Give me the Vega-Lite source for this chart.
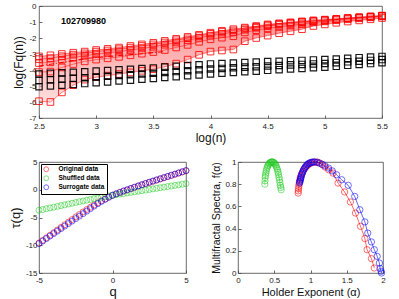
{
"$schema":"https://vega.github.io/schema/vega-lite/v6.json",
"background":"white",
"padding":{"left":9,"top":1,"right":4,"bottom":2},
"spacing":12,
"resolve":{"scale":{"color":"independent","x":"independent","y":"independent"},"legend":{"color":"independent"}},
"config":{
 "view":{"stroke":"#444","strokeWidth":0.8},
 "axis":{"labelFont":"Liberation Sans","titleFont":"Liberation Sans","labelFontSize":8,"titleFontSize":12,"titleFontWeight":"normal","labelColor":"#222","titleColor":"#111","grid":false,"domain":false,"tickColor":"#444","tickSize":-3,"labelPadding":5,"tickWidth":0.8,"titlePadding":3,"labelFlush":false,"labelOverlap":false},
 "axisX":{"labelPadding":6},
 "legend":{"labelFont":"Liberation Sans"}
},
"datasets":{
"lab":[{"x":2.89,"y":-0.94,"t":"102709980"}],
"top":[
{"g":"r","s":0,"x":2.5,"y":-3.15},{"g":"r","s":0,"x":2.6,"y":-3.08},{"g":"r","s":0,"x":2.7,"y":-3.0},{"g":"r","s":0,"x":2.8,"y":-2.92},{"g":"r","s":0,"x":2.9,"y":-2.85},{"g":"r","s":0,"x":3.0,"y":-2.75},{"g":"r","s":0,"x":3.1,"y":-2.68},{"g":"r","s":0,"x":3.2,"y":-2.6},{"g":"r","s":0,"x":3.3,"y":-2.5},{"g":"r","s":0,"x":3.4,"y":-2.4},{"g":"r","s":0,"x":3.5,"y":-2.3},{"g":"r","s":0,"x":3.6,"y":-2.18},{"g":"r","s":0,"x":3.7,"y":-2.05},{"g":"r","s":0,"x":3.8,"y":-1.93},{"g":"r","s":0,"x":3.9,"y":-1.8},{"g":"r","s":0,"x":4.0,"y":-1.67},{"g":"r","s":0,"x":4.1,"y":-1.55},{"g":"r","s":0,"x":4.2,"y":-1.45},{"g":"r","s":0,"x":4.3,"y":-1.35},{"g":"r","s":0,"x":4.4,"y":-1.25},{"g":"r","s":0,"x":4.5,"y":-1.15},{"g":"r","s":0,"x":4.6,"y":-1.08},{"g":"r","s":0,"x":4.7,"y":-1.02},{"g":"r","s":0,"x":4.8,"y":-0.96},{"g":"r","s":0,"x":4.9,"y":-0.9},{"g":"r","s":0,"x":5.0,"y":-0.85},{"g":"r","s":0,"x":5.1,"y":-0.8},{"g":"r","s":0,"x":5.2,"y":-0.75},{"g":"r","s":0,"x":5.3,"y":-0.7},{"g":"r","s":0,"x":5.4,"y":-0.65},{"g":"r","s":0,"x":5.5,"y":-0.6},
{"g":"r","s":1,"x":2.5,"y":-3.32},{"g":"r","s":1,"x":2.6,"y":-3.26},{"g":"r","s":1,"x":2.7,"y":-3.14},{"g":"r","s":1,"x":2.8,"y":-3.04},{"g":"r","s":1,"x":2.9,"y":-2.96},{"g":"r","s":1,"x":3.0,"y":-2.85},{"g":"r","s":1,"x":3.1,"y":-2.78},{"g":"r","s":1,"x":3.2,"y":-2.7},{"g":"r","s":1,"x":3.3,"y":-2.6},{"g":"r","s":1,"x":3.4,"y":-2.5},{"g":"r","s":1,"x":3.5,"y":-2.4},{"g":"r","s":1,"x":3.6,"y":-2.28},{"g":"r","s":1,"x":3.7,"y":-2.14},{"g":"r","s":1,"x":3.8,"y":-2.02},{"g":"r","s":1,"x":3.9,"y":-1.88},{"g":"r","s":1,"x":4.0,"y":-1.74},{"g":"r","s":1,"x":4.1,"y":-1.62},{"g":"r","s":1,"x":4.2,"y":-1.53},{"g":"r","s":1,"x":4.3,"y":-1.4},{"g":"r","s":1,"x":4.4,"y":-1.3},{"g":"r","s":1,"x":4.5,"y":-1.19},{"g":"r","s":1,"x":4.6,"y":-1.12},{"g":"r","s":1,"x":4.7,"y":-1.05},{"g":"r","s":1,"x":4.8,"y":-0.99},{"g":"r","s":1,"x":4.9,"y":-0.92},{"g":"r","s":1,"x":5.0,"y":-0.87},{"g":"r","s":1,"x":5.1,"y":-0.82},{"g":"r","s":1,"x":5.2,"y":-0.76},{"g":"r","s":1,"x":5.3,"y":-0.71},{"g":"r","s":1,"x":5.4,"y":-0.66},{"g":"r","s":1,"x":5.5,"y":-0.61},
{"g":"r","s":2,"x":2.5,"y":-3.57},{"g":"r","s":2,"x":2.6,"y":-3.52},{"g":"r","s":2,"x":2.7,"y":-3.36},{"g":"r","s":2,"x":2.8,"y":-3.22},{"g":"r","s":2,"x":2.9,"y":-3.11},{"g":"r","s":2,"x":3.0,"y":-3.01},{"g":"r","s":2,"x":3.1,"y":-2.93},{"g":"r","s":2,"x":3.2,"y":-2.85},{"g":"r","s":2,"x":3.3,"y":-2.75},{"g":"r","s":2,"x":3.4,"y":-2.65},{"g":"r","s":2,"x":3.5,"y":-2.55},{"g":"r","s":2,"x":3.6,"y":-2.42},{"g":"r","s":2,"x":3.7,"y":-2.28},{"g":"r","s":2,"x":3.8,"y":-2.14},{"g":"r","s":2,"x":3.9,"y":-1.99},{"g":"r","s":2,"x":4.0,"y":-1.85},{"g":"r","s":2,"x":4.1,"y":-1.74},{"g":"r","s":2,"x":4.2,"y":-1.64},{"g":"r","s":2,"x":4.3,"y":-1.48},{"g":"r","s":2,"x":4.4,"y":-1.36},{"g":"r","s":2,"x":4.5,"y":-1.26},{"g":"r","s":2,"x":4.6,"y":-1.17},{"g":"r","s":2,"x":4.7,"y":-1.1},{"g":"r","s":2,"x":4.8,"y":-1.03},{"g":"r","s":2,"x":4.9,"y":-0.95},{"g":"r","s":2,"x":5.0,"y":-0.9},{"g":"r","s":2,"x":5.1,"y":-0.84},{"g":"r","s":2,"x":5.2,"y":-0.78},{"g":"r","s":2,"x":5.3,"y":-0.73},{"g":"r","s":2,"x":5.4,"y":-0.68},{"g":"r","s":2,"x":5.5,"y":-0.62},
{"g":"r","s":3,"x":2.5,"y":-4.13},{"g":"r","s":3,"x":2.6,"y":-4.1},{"g":"r","s":3,"x":2.7,"y":-3.84},{"g":"r","s":3,"x":2.8,"y":-3.63},{"g":"r","s":3,"x":2.9,"y":-3.46},{"g":"r","s":3,"x":3.0,"y":-3.35},{"g":"r","s":3,"x":3.1,"y":-3.27},{"g":"r","s":3,"x":3.2,"y":-3.18},{"g":"r","s":3,"x":3.3,"y":-3.08},{"g":"r","s":3,"x":3.4,"y":-2.98},{"g":"r","s":3,"x":3.5,"y":-2.88},{"g":"r","s":3,"x":3.6,"y":-2.75},{"g":"r","s":3,"x":3.7,"y":-2.59},{"g":"r","s":3,"x":3.8,"y":-2.43},{"g":"r","s":3,"x":3.9,"y":-2.24},{"g":"r","s":3,"x":4.0,"y":-2.08},{"g":"r","s":3,"x":4.1,"y":-1.98},{"g":"r","s":3,"x":4.2,"y":-1.89},{"g":"r","s":3,"x":4.3,"y":-1.65},{"g":"r","s":3,"x":4.4,"y":-1.51},{"g":"r","s":3,"x":4.5,"y":-1.4},{"g":"r","s":3,"x":4.6,"y":-1.3},{"g":"r","s":3,"x":4.7,"y":-1.22},{"g":"r","s":3,"x":4.8,"y":-1.13},{"g":"r","s":3,"x":4.9,"y":-1.02},{"g":"r","s":3,"x":5.0,"y":-0.96},{"g":"r","s":3,"x":5.1,"y":-0.89},{"g":"r","s":3,"x":5.2,"y":-0.83},{"g":"r","s":3,"x":5.3,"y":-0.77},{"g":"r","s":3,"x":5.4,"y":-0.71},{"g":"r","s":3,"x":5.5,"y":-0.65},
{"g":"r","s":4,"x":2.5,"y":-5.95},{"g":"r","s":4,"x":2.6,"y":-6.0},{"g":"r","s":4,"x":2.7,"y":-5.4},{"g":"r","s":4,"x":2.8,"y":-4.95},{"g":"r","s":4,"x":2.9,"y":-4.6},{"g":"r","s":4,"x":3.0,"y":-4.45},{"g":"r","s":4,"x":3.1,"y":-4.35},{"g":"r","s":4,"x":3.2,"y":-4.25},{"g":"r","s":4,"x":3.3,"y":-4.15},{"g":"r","s":4,"x":3.4,"y":-4.05},{"g":"r","s":4,"x":3.5,"y":-3.95},{"g":"r","s":4,"x":3.6,"y":-3.8},{"g":"r","s":4,"x":3.7,"y":-3.6},{"g":"r","s":4,"x":3.8,"y":-3.35},{"g":"r","s":4,"x":3.9,"y":-3.05},{"g":"r","s":4,"x":4.0,"y":-2.85},{"g":"r","s":4,"x":4.1,"y":-2.78},{"g":"r","s":4,"x":4.2,"y":-2.72},{"g":"r","s":4,"x":4.3,"y":-2.2},{"g":"r","s":4,"x":4.4,"y":-2.0},{"g":"r","s":4,"x":4.5,"y":-1.85},{"g":"r","s":4,"x":4.6,"y":-1.7},{"g":"r","s":4,"x":4.7,"y":-1.58},{"g":"r","s":4,"x":4.8,"y":-1.45},{"g":"r","s":4,"x":4.9,"y":-1.25},{"g":"r","s":4,"x":5.0,"y":-1.15},{"g":"r","s":4,"x":5.1,"y":-1.05},{"g":"r","s":4,"x":5.2,"y":-0.97},{"g":"r","s":4,"x":5.3,"y":-0.9},{"g":"r","s":4,"x":5.4,"y":-0.83},{"g":"r","s":4,"x":5.5,"y":-0.75},
{"g":"b","s":0,"x":2.5,"y":-4.25},{"g":"b","s":0,"x":2.6,"y":-4.21},{"g":"b","s":0,"x":2.7,"y":-4.18},{"g":"b","s":0,"x":2.8,"y":-4.14},{"g":"b","s":0,"x":2.9,"y":-4.11},{"g":"b","s":0,"x":3.0,"y":-4.07},{"g":"b","s":0,"x":3.1,"y":-4.03},{"g":"b","s":0,"x":3.2,"y":-3.99},{"g":"b","s":0,"x":3.3,"y":-3.95},{"g":"b","s":0,"x":3.4,"y":-3.91},{"g":"b","s":0,"x":3.5,"y":-3.87},{"g":"b","s":0,"x":3.6,"y":-3.82},{"g":"b","s":0,"x":3.7,"y":-3.77},{"g":"b","s":0,"x":3.8,"y":-3.72},{"g":"b","s":0,"x":3.9,"y":-3.67},{"g":"b","s":0,"x":4.0,"y":-3.62},{"g":"b","s":0,"x":4.1,"y":-3.59},{"g":"b","s":0,"x":4.2,"y":-3.56},{"g":"b","s":0,"x":4.3,"y":-3.53},{"g":"b","s":0,"x":4.4,"y":-3.5},{"g":"b","s":0,"x":4.5,"y":-3.47},{"g":"b","s":0,"x":4.6,"y":-3.45},{"g":"b","s":0,"x":4.7,"y":-3.42},{"g":"b","s":0,"x":4.8,"y":-3.4},{"g":"b","s":0,"x":4.9,"y":-3.37},{"g":"b","s":0,"x":5.0,"y":-3.35},{"g":"b","s":0,"x":5.1,"y":-3.31},{"g":"b","s":0,"x":5.2,"y":-3.27},{"g":"b","s":0,"x":5.3,"y":-3.23},{"g":"b","s":0,"x":5.4,"y":-3.19},{"g":"b","s":0,"x":5.5,"y":-3.15},
{"g":"b","s":1,"x":2.5,"y":-4.65},{"g":"b","s":1,"x":2.6,"y":-4.61},{"g":"b","s":1,"x":2.7,"y":-4.57},{"g":"b","s":1,"x":2.8,"y":-4.52},{"g":"b","s":1,"x":2.9,"y":-4.48},{"g":"b","s":1,"x":3.0,"y":-4.44},{"g":"b","s":1,"x":3.1,"y":-4.39},{"g":"b","s":1,"x":3.2,"y":-4.34},{"g":"b","s":1,"x":3.3,"y":-4.3},{"g":"b","s":1,"x":3.4,"y":-4.25},{"g":"b","s":1,"x":3.5,"y":-4.2},{"g":"b","s":1,"x":3.6,"y":-4.15},{"g":"b","s":1,"x":3.7,"y":-4.1},{"g":"b","s":1,"x":3.8,"y":-4.04},{"g":"b","s":1,"x":3.9,"y":-3.99},{"g":"b","s":1,"x":4.0,"y":-3.94},{"g":"b","s":1,"x":4.1,"y":-3.9},{"g":"b","s":1,"x":4.2,"y":-3.86},{"g":"b","s":1,"x":4.3,"y":-3.82},{"g":"b","s":1,"x":4.4,"y":-3.79},{"g":"b","s":1,"x":4.5,"y":-3.75},{"g":"b","s":1,"x":4.6,"y":-3.72},{"g":"b","s":1,"x":4.7,"y":-3.68},{"g":"b","s":1,"x":4.8,"y":-3.65},{"g":"b","s":1,"x":4.9,"y":-3.62},{"g":"b","s":1,"x":5.0,"y":-3.59},{"g":"b","s":1,"x":5.1,"y":-3.54},{"g":"b","s":1,"x":5.2,"y":-3.49},{"g":"b","s":1,"x":5.3,"y":-3.45},{"g":"b","s":1,"x":5.4,"y":-3.4},{"g":"b","s":1,"x":5.5,"y":-3.35},
{"g":"b","s":2,"x":2.5,"y":-5.05},{"g":"b","s":2,"x":2.6,"y":-5.0},{"g":"b","s":2,"x":2.7,"y":-4.95},{"g":"b","s":2,"x":2.8,"y":-4.9},{"g":"b","s":2,"x":2.9,"y":-4.85},{"g":"b","s":2,"x":3.0,"y":-4.8},{"g":"b","s":2,"x":3.1,"y":-4.75},{"g":"b","s":2,"x":3.2,"y":-4.69},{"g":"b","s":2,"x":3.3,"y":-4.64},{"g":"b","s":2,"x":3.4,"y":-4.58},{"g":"b","s":2,"x":3.5,"y":-4.53},{"g":"b","s":2,"x":3.6,"y":-4.47},{"g":"b","s":2,"x":3.7,"y":-4.42},{"g":"b","s":2,"x":3.8,"y":-4.36},{"g":"b","s":2,"x":3.9,"y":-4.31},{"g":"b","s":2,"x":4.0,"y":-4.25},{"g":"b","s":2,"x":4.1,"y":-4.2},{"g":"b","s":2,"x":4.2,"y":-4.16},{"g":"b","s":2,"x":4.3,"y":-4.11},{"g":"b","s":2,"x":4.4,"y":-4.07},{"g":"b","s":2,"x":4.5,"y":-4.02},{"g":"b","s":2,"x":4.6,"y":-3.98},{"g":"b","s":2,"x":4.7,"y":-3.94},{"g":"b","s":2,"x":4.8,"y":-3.9},{"g":"b","s":2,"x":4.9,"y":-3.86},{"g":"b","s":2,"x":5.0,"y":-3.82},{"g":"b","s":2,"x":5.1,"y":-3.77},{"g":"b","s":2,"x":5.2,"y":-3.71},{"g":"b","s":2,"x":5.3,"y":-3.66},{"g":"b","s":2,"x":5.4,"y":-3.6},{"g":"b","s":2,"x":5.5,"y":-3.55},
{"g":"d","s":9,"x":2.5,"y":-3.75},{"g":"d","s":9,"x":2.95,"y":-3.25},{"g":"d","s":9,"x":3.4,"y":-2.98},{"g":"d","s":9,"x":3.6,"y":-2.85}
],
"tau":[
{"s":"Original data","q":-5,"t":-9.6},{"s":"Original data","q":-4.75,"t":-9.13},{"s":"Original data","q":-4.5,"t":-8.66},{"s":"Original data","q":-4.25,"t":-8.19},{"s":"Original data","q":-4,"t":-7.72},{"s":"Original data","q":-3.75,"t":-7.25},{"s":"Original data","q":-3.5,"t":-6.78},{"s":"Original data","q":-3.25,"t":-6.31},{"s":"Original data","q":-3,"t":-5.84},{"s":"Original data","q":-2.75,"t":-5.37},{"s":"Original data","q":-2.5,"t":-4.9},{"s":"Original data","q":-2.25,"t":-4.45},{"s":"Original data","q":-2,"t":-4.0},{"s":"Original data","q":-1.75,"t":-3.57},{"s":"Original data","q":-1.5,"t":-3.15},{"s":"Original data","q":-1.25,"t":-2.75},{"s":"Original data","q":-1,"t":-2.36},{"s":"Original data","q":-0.75,"t":-2.0},{"s":"Original data","q":-0.5,"t":-1.66},{"s":"Original data","q":-0.25,"t":-1.33},{"s":"Original data","q":0,"t":-1.0},{"s":"Original data","q":0.25,"t":-0.75},{"s":"Original data","q":0.5,"t":-0.5},{"s":"Original data","q":0.75,"t":-0.26},{"s":"Original data","q":1,"t":-0.03},{"s":"Original data","q":1.25,"t":0.19},{"s":"Original data","q":1.5,"t":0.42},{"s":"Original data","q":1.75,"t":0.65},{"s":"Original data","q":2,"t":0.87},{"s":"Original data","q":2.25,"t":1.09},{"s":"Original data","q":2.5,"t":1.31},{"s":"Original data","q":2.75,"t":1.52},{"s":"Original data","q":3,"t":1.73},{"s":"Original data","q":3.25,"t":1.94},{"s":"Original data","q":3.5,"t":2.15},{"s":"Original data","q":3.75,"t":2.36},{"s":"Original data","q":4,"t":2.57},{"s":"Original data","q":4.25,"t":2.78},{"s":"Original data","q":4.5,"t":2.99},{"s":"Original data","q":4.75,"t":3.2},{"s":"Original data","q":5,"t":3.41},
{"s":"Shuffled data","q":-5,"t":-3.7},{"s":"Shuffled data","q":-4.75,"t":-3.56},{"s":"Shuffled data","q":-4.5,"t":-3.42},{"s":"Shuffled data","q":-4.25,"t":-3.28},{"s":"Shuffled data","q":-4,"t":-3.14},{"s":"Shuffled data","q":-3.75,"t":-3.0},{"s":"Shuffled data","q":-3.5,"t":-2.86},{"s":"Shuffled data","q":-3.25,"t":-2.72},{"s":"Shuffled data","q":-3,"t":-2.58},{"s":"Shuffled data","q":-2.75,"t":-2.44},{"s":"Shuffled data","q":-2.5,"t":-2.3},{"s":"Shuffled data","q":-2.25,"t":-2.16},{"s":"Shuffled data","q":-2,"t":-2.02},{"s":"Shuffled data","q":-1.75,"t":-1.88},{"s":"Shuffled data","q":-1.5,"t":-1.74},{"s":"Shuffled data","q":-1.25,"t":-1.61},{"s":"Shuffled data","q":-1,"t":-1.48},{"s":"Shuffled data","q":-0.75,"t":-1.36},{"s":"Shuffled data","q":-0.5,"t":-1.24},{"s":"Shuffled data","q":-0.25,"t":-1.12},{"s":"Shuffled data","q":0,"t":-1.0},{"s":"Shuffled data","q":0.25,"t":-0.895},{"s":"Shuffled data","q":0.5,"t":-0.79},{"s":"Shuffled data","q":0.75,"t":-0.685},{"s":"Shuffled data","q":1,"t":-0.58},{"s":"Shuffled data","q":1.25,"t":-0.475},{"s":"Shuffled data","q":1.5,"t":-0.37},{"s":"Shuffled data","q":1.75,"t":-0.265},{"s":"Shuffled data","q":2,"t":-0.16},{"s":"Shuffled data","q":2.25,"t":-0.055},{"s":"Shuffled data","q":2.5,"t":0.05},{"s":"Shuffled data","q":2.75,"t":0.155},{"s":"Shuffled data","q":3,"t":0.26},{"s":"Shuffled data","q":3.25,"t":0.365},{"s":"Shuffled data","q":3.5,"t":0.47},{"s":"Shuffled data","q":3.75,"t":0.575},{"s":"Shuffled data","q":4,"t":0.68},{"s":"Shuffled data","q":4.25,"t":0.785},{"s":"Shuffled data","q":4.5,"t":0.89},{"s":"Shuffled data","q":4.75,"t":0.995},{"s":"Shuffled data","q":5,"t":1.1},
{"s":"Surrogate data","q":-5,"t":-9.7},{"s":"Surrogate data","q":-4.75,"t":-9.25},{"s":"Surrogate data","q":-4.5,"t":-8.8},{"s":"Surrogate data","q":-4.25,"t":-8.35},{"s":"Surrogate data","q":-4,"t":-7.9},{"s":"Surrogate data","q":-3.75,"t":-7.45},{"s":"Surrogate data","q":-3.5,"t":-7.0},{"s":"Surrogate data","q":-3.25,"t":-6.55},{"s":"Surrogate data","q":-3,"t":-6.1},{"s":"Surrogate data","q":-2.75,"t":-5.65},{"s":"Surrogate data","q":-2.5,"t":-5.2},{"s":"Surrogate data","q":-2.25,"t":-4.75},{"s":"Surrogate data","q":-2,"t":-4.3},{"s":"Surrogate data","q":-1.75,"t":-3.85},{"s":"Surrogate data","q":-1.5,"t":-3.4},{"s":"Surrogate data","q":-1.25,"t":-2.95},{"s":"Surrogate data","q":-1,"t":-2.5},{"s":"Surrogate data","q":-0.75,"t":-2.1},{"s":"Surrogate data","q":-0.5,"t":-1.72},{"s":"Surrogate data","q":-0.25,"t":-1.35},{"s":"Surrogate data","q":0,"t":-1.0},{"s":"Surrogate data","q":0.25,"t":-0.72},{"s":"Surrogate data","q":0.5,"t":-0.46},{"s":"Surrogate data","q":0.75,"t":-0.21},{"s":"Surrogate data","q":1,"t":0.0},{"s":"Surrogate data","q":1.25,"t":0.24},{"s":"Surrogate data","q":1.5,"t":0.47},{"s":"Surrogate data","q":1.75,"t":0.7},{"s":"Surrogate data","q":2,"t":0.92},{"s":"Surrogate data","q":2.25,"t":1.14},{"s":"Surrogate data","q":2.5,"t":1.36},{"s":"Surrogate data","q":2.75,"t":1.57},{"s":"Surrogate data","q":3,"t":1.78},{"s":"Surrogate data","q":3.25,"t":1.99},{"s":"Surrogate data","q":3.5,"t":2.2},{"s":"Surrogate data","q":3.75,"t":2.41},{"s":"Surrogate data","q":4,"t":2.62},{"s":"Surrogate data","q":4.25,"t":2.83},{"s":"Surrogate data","q":4.5,"t":3.04},{"s":"Surrogate data","q":4.75,"t":3.25},{"s":"Surrogate data","q":5,"t":3.46}
],
"spec":[
{"s":"o","a":0.83,"f":0.72},{"s":"o","a":0.832,"f":0.74},{"s":"o","a":0.835,"f":0.76},{"s":"o","a":0.838,"f":0.78},{"s":"o","a":0.842,"f":0.8},{"s":"o","a":0.847,"f":0.82},{"s":"o","a":0.853,"f":0.84},{"s":"o","a":0.86,"f":0.86},{"s":"o","a":0.868,"f":0.875},{"s":"o","a":0.877,"f":0.89},{"s":"o","a":0.888,"f":0.905},{"s":"o","a":0.9,"f":0.92},{"s":"o","a":0.913,"f":0.935},{"s":"o","a":0.928,"f":0.948},{"s":"o","a":0.944,"f":0.96},{"s":"o","a":0.962,"f":0.972},{"s":"o","a":0.982,"f":0.982},{"s":"o","a":1.003,"f":0.99},{"s":"o","a":1.025,"f":0.996},{"s":"o","a":1.05,"f":0.999},{"s":"o","a":1.075,"f":1.0},{"s":"o","a":1.1,"f":0.997},{"s":"o","a":1.13,"f":0.99},{"s":"o","a":1.165,"f":0.975},{"s":"o","a":1.2,"f":0.955},{"s":"o","a":1.25,"f":0.93},{"s":"o","a":1.31,"f":0.9},{"s":"o","a":1.38,"f":0.81},{"s":"o","a":1.47,"f":0.73},{"s":"o","a":1.55,"f":0.64},{"s":"o","a":1.62,"f":0.54},{"s":"o","a":1.69,"f":0.42},{"s":"o","a":1.75,"f":0.31},{"s":"o","a":1.78,"f":0.21},{"s":"o","a":1.84,"f":0.13},{"s":"o","a":1.88,"f":0.045},
{"s":"g","a":0.37,"f":0.8},{"s":"g","a":0.372,"f":0.83},{"s":"g","a":0.375,"f":0.86},{"s":"g","a":0.379,"f":0.88},{"s":"g","a":0.384,"f":0.9},{"s":"g","a":0.39,"f":0.92},{"s":"g","a":0.397,"f":0.94},{"s":"g","a":0.405,"f":0.955},{"s":"g","a":0.413,"f":0.968},{"s":"g","a":0.422,"f":0.978},{"s":"g","a":0.431,"f":0.986},{"s":"g","a":0.44,"f":0.992},{"s":"g","a":0.449,"f":0.996},{"s":"g","a":0.458,"f":0.999},{"s":"g","a":0.467,"f":1.0},{"s":"g","a":0.476,"f":1.0},{"s":"g","a":0.485,"f":0.998},{"s":"g","a":0.494,"f":0.994},{"s":"g","a":0.503,"f":0.988},{"s":"g","a":0.512,"f":0.98},{"s":"g","a":0.521,"f":0.97},{"s":"g","a":0.53,"f":0.957},{"s":"g","a":0.538,"f":0.942},{"s":"g","a":0.546,"f":0.925},{"s":"g","a":0.553,"f":0.906},{"s":"g","a":0.56,"f":0.885},{"s":"g","a":0.566,"f":0.862},{"s":"g","a":0.572,"f":0.84},{"s":"g","a":0.578,"f":0.815},{"s":"g","a":0.584,"f":0.79},{"s":"g","a":0.59,"f":0.77},{"s":"g","a":0.596,"f":0.75},
{"s":"b","a":0.85,"f":0.81},{"s":"b","a":0.853,"f":0.82},{"s":"b","a":0.856,"f":0.83},{"s":"b","a":0.86,"f":0.84},{"s":"b","a":0.864,"f":0.85},{"s":"b","a":0.869,"f":0.86},{"s":"b","a":0.874,"f":0.875},{"s":"b","a":0.88,"f":0.89},{"s":"b","a":0.887,"f":0.9},{"s":"b","a":0.895,"f":0.915},{"s":"b","a":0.904,"f":0.93},{"s":"b","a":0.914,"f":0.94},{"s":"b","a":0.925,"f":0.952},{"s":"b","a":0.937,"f":0.963},{"s":"b","a":0.95,"f":0.973},{"s":"b","a":0.965,"f":0.982},{"s":"b","a":0.98,"f":0.989},{"s":"b","a":0.997,"f":0.994},{"s":"b","a":1.015,"f":0.998},{"s":"b","a":1.035,"f":1.0},{"s":"b","a":1.055,"f":1.0},{"s":"b","a":1.09,"f":0.998},{"s":"b","a":1.12,"f":0.99},{"s":"b","a":1.16,"f":0.98},{"s":"b","a":1.2,"f":0.965},{"s":"b","a":1.25,"f":0.945},{"s":"b","a":1.3,"f":0.92},{"s":"b","a":1.36,"f":0.885},{"s":"b","a":1.43,"f":0.84},{"s":"b","a":1.52,"f":0.79},{"s":"b","a":1.61,"f":0.69},{"s":"b","a":1.68,"f":0.57},{"s":"b","a":1.75,"f":0.46},{"s":"b","a":1.79,"f":0.36},{"s":"b","a":1.84,"f":0.28},{"s":"b","a":1.88,"f":0.21},{"s":"b","a":1.92,"f":0.15},{"s":"b","a":1.95,"f":0.09},{"s":"b","a":1.96,"f":0.04},{"s":"b","a":1.975,"f":0.015},{"s":"b","a":1.98,"f":0.0}
]
},
"vconcat":[
{
 "width":343,"height":112,
 "data":{"name":"top"},
 "encoding":{
  "x":{"field":"x","type":"quantitative","scale":{"domain":[2.5,5.5],"nice":false,"zero":false},"title":"log(n)","axis":{"values":[2.5,3,3.5,4,4.5,5,5.5],"labelExpr":"''+datum.value","labelPadding":7,"titlePadding":2}},
  "y":{"field":"y","type":"quantitative","scale":{"domain":[-7,0],"nice":false,"zero":false},"title":"log(Fq(n))","axis":{"values":[-7,-6,-5,-4,-3,-2,-1,0],"labelExpr":"''+datum.value","labelPadding":6}}
 },
 "layer":[
  {"transform":[{"filter":{"field":"g","equal":"r"}},{"aggregate":[{"op":"max","field":"y","as":"y"},{"op":"min","field":"y","as":"lo"}],"groupby":["x"]}],
   "mark":{"type":"area","opacity":0.6,"color":{"gradient":"linear","x1":0,"y1":0,"x2":0,"y2":1,"stops":[{"offset":0,"color":"#ff4040"},{"offset":1,"color":"#ffc8c8"}]}},
   "encoding":{"y2":{"field":"lo"}}},
  {"transform":[{"filter":{"field":"g","equal":"r"}}],
   "mark":{"type":"line","color":"#ff0000","strokeWidth":0.6,"opacity":0.8},
   "encoding":{"detail":{"field":"s"}}},
  {"transform":[{"filter":{"field":"g","equal":"r"}}],
   "mark":{"type":"point","shape":"square","filled":false,"size":44,"strokeWidth":0.9,"color":"#ff0000","opacity":0.9}},
  {"transform":[{"filter":{"field":"g","equal":"b"}}],
   "mark":{"type":"point","shape":"square","filled":false,"size":40,"strokeWidth":1.2,"color":"#000000","opacity":0.9}},
  {"transform":[{"filter":{"field":"g","equal":"d"}}],
   "mark":{"type":"line","color":"#ff0000","strokeWidth":1.1,"strokeDash":[5,2,1,2]}},
  {"data":{"name":"lab"},
   "mark":{"type":"text","font":"Liberation Sans","fontSize":9,"fontWeight":"bold","color":"#000"},
   "encoding":{"text":{"field":"t"}}}
 ]
},
{
 "spacing":20,
 "resolve":{"scale":{"color":"independent"},"legend":{"color":"independent"}},
 "hconcat":[
  {
   "width":147,"height":111,
   "data":{"name":"tau"},
   "mark":{"type":"point","shape":"circle","filled":false,"size":36,"strokeWidth":0.8},
   "encoding":{
    "x":{"field":"q","type":"quantitative","scale":{"domain":[-5,5]},"title":"q","axis":{"values":[-5,0,5],"labelExpr":"''+datum.value","titleFontSize":13,"titlePadding":1}},
    "y":{"field":"t","type":"quantitative","scale":{"domain":[-15,5]},"title":"τ(q)","axis":{"values":[-15,-10,-5,0,5],"labelExpr":"''+datum.value","titleFontSize":13}},
    "color":{"field":"s","type":"nominal","scale":{"domain":["Original data","Shuffled data","Surrogate data"],"range":["#ff0000","#22cc22","#0000ff"]},
     "legend":{"title":null,"orient":"top-left","offset":2,"fillColor":"white","strokeColor":"#000","padding":2,"labelFontSize":6.5,"labelFontWeight":"bold","symbolSize":24,"symbolStrokeWidth":0.8,"rowPadding":0,"labelOffset":9}}
   }
  },
  {
   "width":145,"height":111,
   "data":{"name":"spec"},
   "encoding":{
    "x":{"field":"a","type":"quantitative","scale":{"domain":[0,2]},"title":"Holder Exponent (α)","axis":{"values":[0,0.5,1,1.5,2],"labelExpr":"''+datum.value","titleFontSize":11,"titlePadding":2}},
    "y":{"field":"f","type":"quantitative","scale":{"domain":[0,1]},"title":"Multifractal Spectra, f(α)","axis":{"values":[0,0.2,0.4,0.6,0.8,1],"labelExpr":"''+datum.value","titleFontSize":10.5}},
    "color":{"field":"s","type":"nominal","scale":{"domain":["o","g","b"],"range":["#ff0000","#22cc22","#0000ff"]},"legend":null}
   },
   "layer":[
    {"mark":{"type":"line","strokeWidth":0.6}},
    {"mark":{"type":"point","shape":"circle","filled":false,"size":40,"strokeWidth":0.8}}
   ]
  }
 ]
}
]
}
